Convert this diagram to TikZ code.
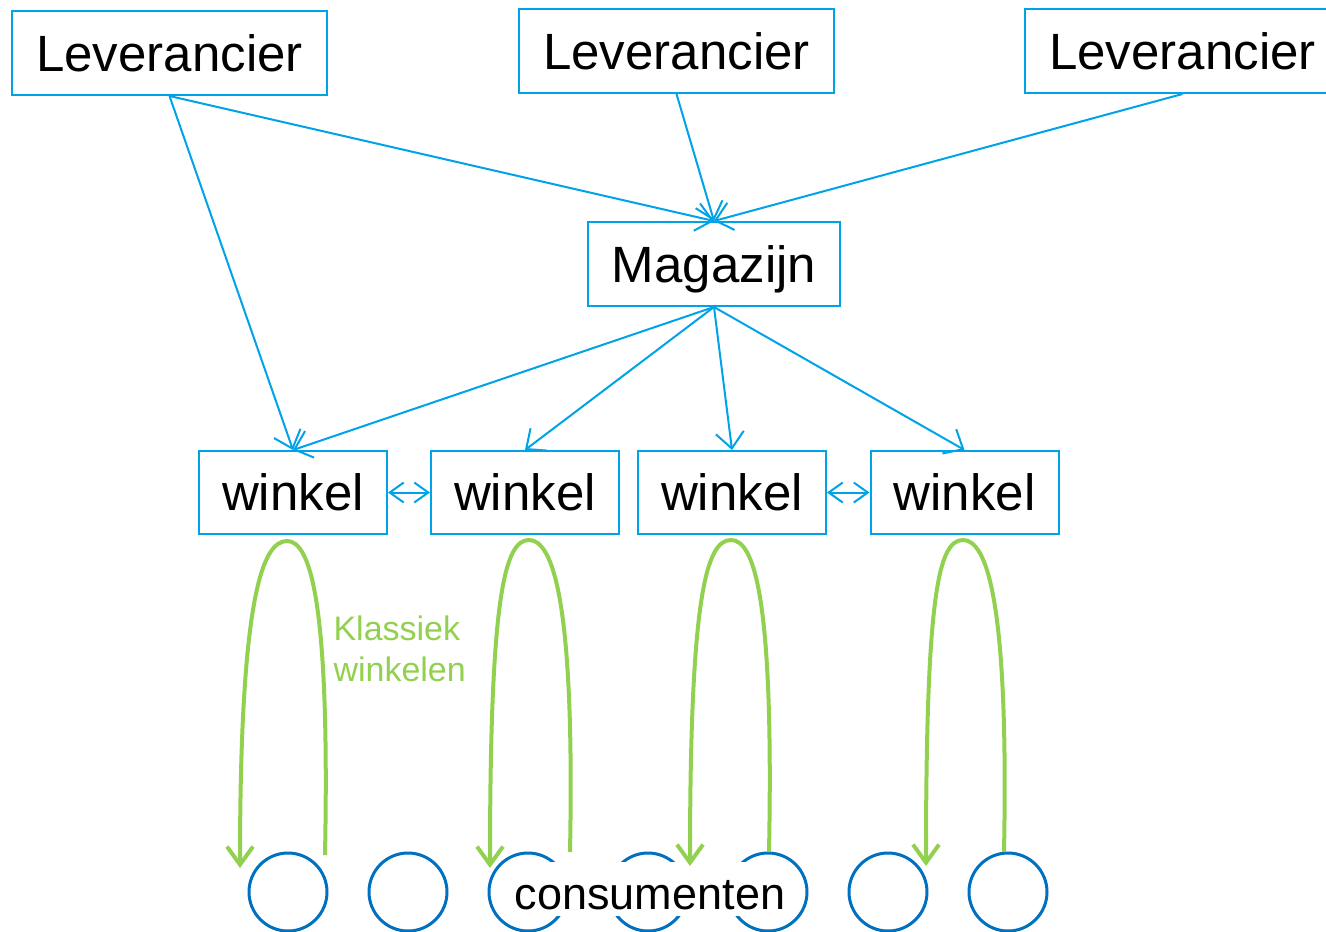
\documentclass[tikz,border=0pt]{standalone}
\usepackage{fontspec}
\setmainfont{Liberation Sans}
\usetikzlibrary{arrows.meta,calc}
\definecolor{boxblue}{RGB}{0,162,232}
\definecolor{ringblue}{RGB}{0,112,192}
\definecolor{shopgreen}{RGB}{146,208,80}
\begin{document}
\begin{tikzpicture}[x=1pt,y=-1pt,
  box/.style={draw=boxblue, line width=2pt, minimum height=84pt, text depth=0pt, font=\fontsize{51}{60}\selectfont},
  lev/.style={box, minimum width=315pt},
  shop/.style={box, minimum width=188pt, minimum height=83pt},
  ring/.style={circle, draw=ringblue, line width=3pt, minimum size=78pt},
  supply/.style={boxblue, line width=2pt, -{Straight Barb[length=16pt,width=28pt]}},
  swap/.style={boxblue, line width=2pt, {Straight Barb[length=14pt,width=20pt]}-{Straight Barb[length=14pt,width=20pt]}},
  visit/.style={shopgreen, line width=4pt, -{Straight Barb[length=18pt,width=26pt]}}]
  \useasboundingbox (0,0) rectangle (1326,932);
  % leveranciers en magazijn
  \node[lev] (lev1) at (169.5,53) {Leverancier};
  \node[lev] (lev2) at (676.5,51) {Leverancier};
  \node[lev] (lev3) at (1182.5,51) {Leverancier};
  \node[box, minimum width=252pt] (mag) at (714,264) {Magazijn};
  % winkels
  \node[shop] (w1) at (293,492.5) {winkel};
  \node[shop] (w2) at (525,492.5) {winkel};
  \node[shop] (w3) at (732,492.5) {winkel};
  \node[shop] (w4) at (964.5,492.5) {winkel};
  % consumenten
  \foreach \i in {1,...,7}
    \node[ring] (c\i) at (168+120*\i,892) {};
  \node[fill=white, inner xsep=4pt, minimum height=54pt, text height=40pt, text depth=0pt, font=\fontsize{45}{54}\selectfont] (cons) at (650,889) {consumenten};
  % stromen
  \draw[supply] (lev1.south) -- (w1.north);
  \draw[supply] (lev1.south) -- (mag.north);
  \draw[supply] (lev2.south) -- (mag.north);
  \draw[supply] (lev3.south) -- (mag.north);
  \foreach \w in {w1,w2,w3,w4}
    \draw[supply] (mag.south) -- (\w.north);
  \draw[swap] (w1.east) -- (w2.west);
  \draw[swap] (w3.east) -- (w4.west);
  % klassiek winkelen
  \coordinate (a1) at (325,855); \coordinate (p1) at (287,541); \coordinate (b1) at (240,868);
  \coordinate (a2) at (570,852); \coordinate (p2) at (529,540); \coordinate (b2) at (490,868);
  \coordinate (a3) at (769,852); \coordinate (p3) at (731,540); \coordinate (b3) at (690,866);
  \coordinate (a4) at (1004,852); \coordinate (p4) at (963,540); \coordinate (b4) at (926,866);
  \foreach \k in {1,2,3,4}
    \draw[visit] (a\k) .. controls ($(a\k)+(5,-255)$) and ($(p\k)+(23,0)$) .. (p\k)
      .. controls ($(p\k)+(-25,0)$) and ($(b\k)+(0,-268)$) .. (b\k);
  \node[shopgreen, align=left, anchor=west, font=\fontsize{34}{41}\selectfont] (klas) at (330,649) {Klassiek\\winkelen};
\end{tikzpicture}
\end{document}
